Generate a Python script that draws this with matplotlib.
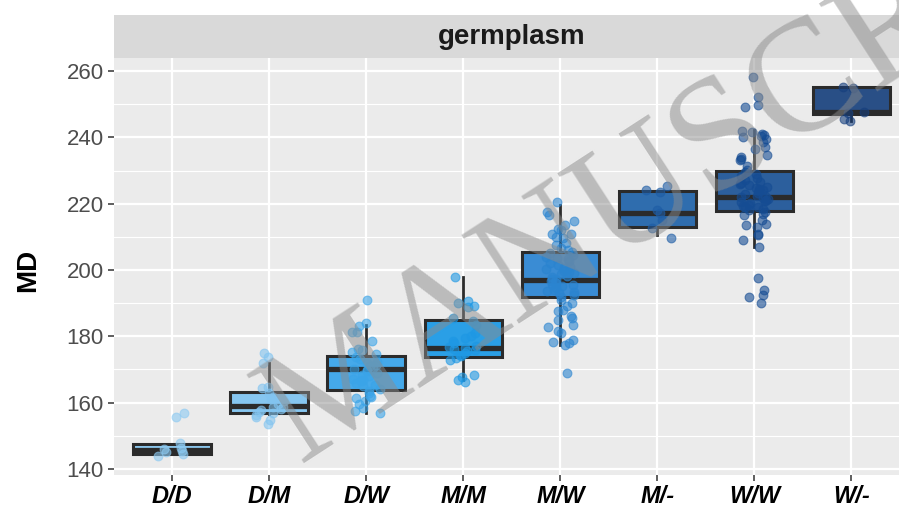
import matplotlib
matplotlib.use("Agg")
import matplotlib.pyplot as plt
import numpy as np

plt.rcParams['font.family'] = ['Liberation Sans', 'DejaVu Sans']

# germplasm groups along the x axis
groups = ['D/D', 'D/M', 'D/W', 'M/M', 'M/W', 'M/-', 'W/W', 'W/-']

# box statistics
q1 = [144.6, 156.8, 163.8, 173.9, 191.9, 212.9, 217.9, 246.9]
med = [145.6, 159.0, 170.3, 176.4, 197.0, 217.1, 222.1, 247.6]
q3 = [147.5, 163.3, 174.1, 184.9, 205.3, 223.9, 229.9, 255.1]
whislo = [144.4, 156.6, 156.8, 166.8, 177.4, 210.5, 207.0, 244.8]
whishi = [147.6, 171.9, 183.4, 198.0, 219.6, 223.9, 242.2, 255.1]

# jittered observations (MD) per group
md_dd = [155.6, 157.0, 147.7, 145.9, 145.2, 144.5, 144.0, 145.5, 146.3]
md_dm = [173.9, 174.9, 171.9, 164.3, 164.6, 163.0, 161.0, 160.5, 159.5, 158.8,
         158.8, 157.8, 157.3, 156.8, 156.3, 155.6, 154.8, 153.6, 158.0, 161.8]
md_dw = [191.0, 184.1, 183.1, 181.4, 181.2, 178.7, 176.1, 176.0, 175.2, 174.6,
         173.8, 173.1, 172.4, 172.0, 171.3, 171.0, 170.6, 170.1, 169.8, 169.4,
         169.0, 168.3, 168.0, 167.2, 166.9, 166.4, 165.8, 165.3, 164.9, 164.2,
         163.6, 162.8, 162.0, 161.8, 161.3, 160.4, 159.5, 158.3, 157.6, 156.8]
md_mm = [198.0, 190.7, 190.0, 189.1, 188.8, 185.4, 184.5, 183.4, 181.0, 179.5,
         178.5, 177.9, 177.0, 176.5, 176.2, 175.8, 175.5, 175.0, 174.5, 174.0,
         173.5, 172.9, 168.3, 167.8, 166.3, 166.8, 180.2, 176.9]
md_mw = [220.4, 217.6, 216.5, 214.9, 213.5, 212.3, 212.0, 211.0, 210.1, 209.5,
         208.0, 207.5, 206.5, 206.0, 205.5, 205.0, 204.4, 203.8, 203.2, 202.6,
         202.0, 201.5, 201.0, 200.4, 199.8, 199.3, 198.8, 198.3, 197.8, 197.3,
         197.0, 196.6, 196.1, 195.6, 195.1, 194.6, 194.0, 193.5, 193.0, 192.5,
         192.0, 191.0, 190.0, 189.0, 188.0, 187.5, 186.0, 184.9, 183.5, 182.7,
         181.7, 181.1, 179.0, 178.4, 178.0, 177.4, 168.9, 200.7, 199.1, 196.4,
         203.5, 195.8, 193.8, 210.8, 185.5]
md_mn = [225.3, 224.1, 223.5, 218.0, 217.1, 215.0, 212.6, 209.7]
md_ww = [258.3, 252.3, 249.7, 249.0, 242.0, 241.5, 241.0, 240.7, 240.5, 240.2,
         239.5, 238.5, 237.2, 236.5, 234.7, 234.0, 233.6, 233.2, 231.5, 230.1,
         229.5, 229.0, 228.4, 227.8, 227.2, 226.6, 226.0, 225.5, 225.0, 224.6,
         224.1, 223.7, 223.2, 222.8, 222.4, 222.0, 221.7, 221.3, 220.9, 220.5,
         220.1, 219.7, 219.3, 218.9, 218.5, 218.1, 217.6, 217.0, 216.5, 215.0,
         214.0, 213.6, 213.0, 211.0, 210.5, 209.0, 207.0, 197.5, 194.0, 192.4,
         191.8, 190.1, 222.3, 221.1, 219.0, 226.3, 224.4]
md_wn = [255.3, 254.8, 247.7, 247.2, 245.5, 244.8]
md_points = [md_dd, md_dm, md_dw, md_mm, md_mw, md_mn, md_ww, md_wn]

box_fill = ['#8ECBF2', '#86C6F0', '#45A9EA', '#2A9FE6',
            '#3A8CD4', '#2F6DAE', '#2C5F9D', '#294F86']
point_col = ['#8CCAF2', '#82C4F0', '#3AA4E8', '#1E98E4',
             '#2A84D0', '#1E5DA6', '#154C93', '#163F7E']

W, H = 899, 508
fig = plt.figure(figsize=(W / 100, H / 100), dpi=100)

# panel
ax = fig.add_axes([114 / W, (H - 475) / H, (W - 114) / W, (475 - 58) / H])
ax.set_facecolor('#EBEBEB')
pos = np.arange(1, len(groups) + 1)
ax.set_xlim(0.4, 8.49)
ax.set_ylim(138.19, 263.92)
ax.set_yticks([140, 160, 180, 200, 220, 240, 260])
ax.set_yticks([150, 170, 190, 210, 230, 250], minor=True)
ax.set_xticks(pos)
ax.set_xticklabels(groups, fontsize=17, fontweight='bold', fontstyle='italic', color='black')
ax.grid(which='major', color='white', lw=1.6)
ax.grid(which='minor', axis='y', color='white', lw=0.8)
ax.set_axisbelow(True)
for s in ax.spines.values():
    s.set_visible(False)
ax.tick_params(which='major', length=4.5, width=1.1, color='#333333',
               labelsize=16, labelcolor='#4D4D4D', pad=3)
ax.tick_params(axis='x', labelcolor='black', labelsize=17)
ax.tick_params(which='minor', length=0)

stats = [dict(med=med[i], q1=q1[i], q3=q3[i], whislo=whislo[i], whishi=whishi[i], fliers=[])
         for i in range(len(groups))]
bp = ax.bxp(stats, positions=pos, widths=0.8, patch_artist=True, showcaps=False,
            showfliers=False, manage_ticks=False,
            boxprops=dict(lw=2.2, edgecolor='#2B2B2B'),
            medianprops=dict(color='#2B2B2B', lw=3.8, solid_capstyle='butt'),
            whiskerprops=dict(color='#2B2B2B', lw=2.0))
for patch, c in zip(bp['boxes'], box_fill):
    patch.set_facecolor(c)

rng = np.random.default_rng(7)
for i, vals in enumerate(md_points):
    xj = pos[i] + rng.uniform(-0.15, 0.15, len(vals))
    ax.scatter(xj, vals, s=40, color=point_col[i], alpha=0.6,
               edgecolors=point_col[i], linewidths=0.8, zorder=3)

# facet strip
sx = fig.add_axes([114 / W, (H - 58) / H, (W - 114) / W, 43 / H])
sx.set_facecolor('#D9D9D9')
sx.set_xticks([])
sx.set_yticks([])
for s in sx.spines.values():
    s.set_visible(False)
fig.text(511.5 / W, 1 - 37 / H, 'germplasm', ha='center', va='center',
         fontsize=20, fontweight='bold', color='#1A1A1A')

fig.text(28 / W, 1 - 270 / H, 'MD', rotation=90, ha='center', va='center',
         fontsize=20, fontweight='bold', color='black')

# watermark
fig.text(299 / W, 1 - 463 / H, 'MANUSCRIPT', rotation=33, rotation_mode='anchor',
         ha='left', va='baseline', fontsize=115, family='Liberation Serif',
         color='#8C8C8C', alpha=0.5, zorder=10)

fig.savefig('out.png', dpi=100)
